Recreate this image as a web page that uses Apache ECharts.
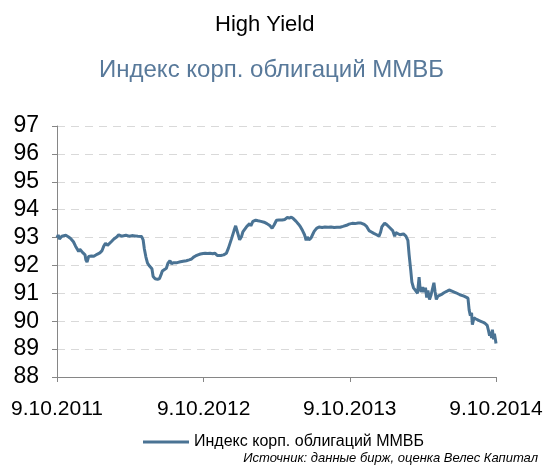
<!DOCTYPE html>
<html>
<head>
<meta charset="utf-8">
<script src="https://cdn.jsdelivr.net/npm/echarts@6/dist/echarts.min.js"></script>
<style>
  html, body { margin: 0; padding: 0; background: #fff; }
  #chart { width: 547px; height: 470px; }
</style>
</head>
<body>
<div id="chart"></div>
<script>
// индекс корп. облигаций ММВБ
const dates = [
  "2011-10-09","2011-10-12","2011-10-15","2011-10-18","2011-10-21","2011-10-25","2011-10-31",
  "2011-11-07","2011-11-13","2011-11-19","2011-11-24","2011-11-28","2011-12-02","2011-12-05",
  "2011-12-09","2011-12-13","2011-12-18","2011-12-20","2011-12-23","2011-12-27","2012-01-03",
  "2012-01-09","2012-01-17","2012-01-24","2012-01-29","2012-02-03","2012-02-07","2012-02-12",
  "2012-02-16","2012-02-22","2012-02-28","2012-03-06","2012-03-11","2012-03-14","2012-03-18",
  "2012-03-22","2012-03-29","2012-04-06","2012-04-13","2012-04-21","2012-04-28","2012-05-07",
  "2012-05-11","2012-05-14","2012-05-18","2012-05-22","2012-05-27","2012-06-02","2012-06-05",
  "2012-06-10","2012-06-16","2012-06-21","2012-06-25","2012-06-28","2012-07-02","2012-07-08",
  "2012-07-12","2012-07-17","2012-07-21","2012-07-26","2012-07-30","2012-08-04","2012-08-07",
  "2012-08-12","2012-08-19","2012-08-27","2012-09-03","2012-09-09","2012-09-14","2012-09-19",
  "2012-09-25","2012-10-01","2012-10-08","2012-10-13","2012-10-19","2012-10-25","2012-11-01",
  "2012-11-06","2012-11-12","2012-11-15","2012-11-21","2012-11-28","2012-12-05","2012-12-10",
  "2012-12-18","2012-12-24","2012-12-28","2013-01-07","2013-01-12","2013-01-15","2013-01-20",
  "2013-01-25","2013-02-01","2013-02-04","2013-02-09","2013-02-16","2013-02-22","2013-03-01",
  "2013-03-09","2013-03-16","2013-03-24","2013-03-29","2013-04-03","2013-04-09","2013-04-15",
  "2013-04-23","2013-04-30","2013-05-06","2013-05-11","2013-05-16","2013-05-21","2013-05-28",
  "2013-06-03","2013-06-08","2013-06-13","2013-06-18","2013-06-22","2013-06-25","2013-06-29",
  "2013-07-04","2013-07-08","2013-07-12","2013-07-18","2013-07-24","2013-08-01","2013-08-08",
  "2013-08-16","2013-08-23","2013-08-31","2013-09-07","2013-09-15","2013-09-22","2013-10-01",
  "2013-10-07","2013-10-15","2013-10-22","2013-10-30","2013-11-06","2013-11-14","2013-11-20",
  "2013-11-26","2013-12-02","2013-12-08","2013-12-15","2013-12-21","2013-12-25","2013-12-28",
  "2014-01-04","2014-01-10","2014-01-17","2014-01-24","2014-01-29","2014-02-01","2014-02-05",
  "2014-02-11","2014-02-15","2014-02-20","2014-02-26","2014-03-03","2014-03-06","2014-03-10",
  "2014-03-13","2014-03-17","2014-03-21","2014-03-25","2014-03-27","2014-03-31","2014-04-02",
  "2014-04-05","2014-04-09","2014-04-12","2014-04-16","2014-04-19","2014-04-22","2014-04-26",
  "2014-04-30","2014-05-03","2014-05-07","2014-05-10","2014-05-13","2014-05-17","2014-05-25",
  "2014-06-01","2014-06-09","2014-06-14","2014-06-21","2014-07-01","2014-07-11","2014-07-21",
  "2014-07-31","2014-08-03","2014-08-06","2014-08-09","2014-08-11","2014-08-15","2014-08-20",
  "2014-08-28","2014-09-04","2014-09-12","2014-09-17","2014-09-20","2014-09-23","2014-09-25",
  "2014-09-28","2014-09-30","2014-10-03","2014-10-05","2014-10-08","2014-10-09"
];
const values = [
  93.00,93.09,92.95,92.90,93.05,93.12,93.08,
  93.02,92.95,92.85,92.70,92.60,92.50,92.58,
  92.55,92.45,92.38,92.20,92.12,92.32,92.34,
  92.33,92.40,92.45,92.52,92.70,92.80,92.72,
  92.78,92.86,92.95,93.02,93.10,93.15,93.05,
  93.10,93.08,93.05,93.07,93.06,93.05,93.04,
  92.92,92.60,92.30,92.08,91.98,91.88,91.60,
  91.52,91.50,91.53,91.68,91.80,91.86,91.90,
  92.08,92.17,92.06,92.10,92.14,92.10,92.08,
  92.13,92.15,92.17,92.20,92.23,92.30,92.34,
  92.38,92.41,92.43,92.44,92.43,92.44,92.42,
  92.44,92.36,92.32,92.36,92.38,92.44,92.62,
  92.97,93.25,93.42,92.92,93.05,93.20,93.30,
  93.40,93.50,93.42,93.58,93.62,93.60,93.58,
  93.55,93.50,93.42,93.33,93.45,93.62,93.63,
  93.63,93.65,93.72,93.70,93.73,93.68,93.58,
  93.48,93.38,93.25,93.10,92.90,93.02,92.92,
  92.98,93.10,93.22,93.33,93.38,93.36,93.38,
  93.37,93.38,93.36,93.37,93.37,93.40,93.44,
  93.48,93.51,93.50,93.52,93.52,93.47,93.40,
  93.25,93.20,93.15,93.10,93.05,93.20,93.38,
  93.52,93.45,93.35,93.25,93.05,93.18,93.12,
  93.10,93.15,93.13,93.05,92.90,92.40,91.85,
  91.40,91.20,91.12,91.05,91.00,91.58,91.25,
  91.05,91.22,91.05,91.20,90.85,91.10,90.78,
  90.95,91.00,91.38,91.05,90.78,90.90,90.95,
  91.02,91.08,91.12,91.08,91.02,90.95,90.90,
  90.83,90.40,90.20,90.30,89.88,90.12,90.08,
  90.02,89.98,89.92,89.85,89.68,89.48,89.62,
  89.40,89.70,89.35,89.55,89.30,89.20
];
const xTickDates = ["2011-10-09", "2012-10-09", "2013-10-09", "2014-10-09"];
const yMin = 88, yMax = 97;

const seriesName = "Индекс корп. облигаций ММВБ";
const lineColor = "#4a7394";
const font = "'Liberation Sans', Arial, sans-serif";

const ts = s => new Date(s + "T00:00:00Z").getTime();
const fmt = v => {
  const d = new Date(v);
  return d.getUTCDate() + "." + (d.getUTCMonth() + 1) + "." + d.getUTCFullYear();
};
const xTicks = xTickDates.map(ts);

const chart = echarts.init(document.getElementById("chart"));
chart.setOption({
  animation: false,
  title: [
    { text: "High Yield", left: 210, top: 9,
      textStyle: { fontFamily: font, fontSize: 22, fontWeight: "normal", color: "#000" } },
    { text: seriesName, left: 94, top: 53,
      textStyle: { fontFamily: font, fontSize: 24, fontWeight: "normal", color: "#58799a" } },
    { text: "Источник: данные бирж, оценка Велес Капитал", right: 4, top: 447,
      textStyle: { fontFamily: font, fontSize: 13, fontStyle: "italic", fontWeight: "normal", color: "#000" } }
  ],
  legend: {
    bottom: 15, left: 138,
    itemWidth: 46, itemHeight: 3, itemGap: 6,
    icon: "rect",
    textStyle: { fontFamily: font, fontSize: 16, color: "#000" },
    data: [seriesName]
  },
  grid: { left: 57, right: 51, top: 126, bottom: 93 },
  xAxis: {
    type: "value",
    min: xTicks[0],
    max: xTicks[xTicks.length - 1],
    axisLine: { lineStyle: { color: "#868686", width: 1 } },
    axisTick: { show: true, length: 5, customValues: xTicks, lineStyle: { color: "#868686" } },
    axisLabel: { customValues: xTicks, formatter: fmt, margin: 22,
      fontFamily: font, fontSize: 21, color: "#000" },
    splitLine: { show: false }
  },
  yAxis: {
    type: "value",
    min: yMin, max: yMax, interval: 1,
    axisLine: { show: true, lineStyle: { color: "#868686", width: 1 } },
    axisTick: { show: true, length: 5, lineStyle: { color: "#868686" } },
    axisLabel: { fontFamily: font, fontSize: 23, color: "#000", margin: 18 },
    splitLine: { show: true, lineStyle: { color: "#d9d9d9", type: [8, 6], width: 1 } }
  },
  series: [{
    name: seriesName,
    type: "line",
    data: dates.map((d, i) => [ts(d), values[i]]),
    showSymbol: false,
    lineStyle: { color: lineColor, width: 3 },
    itemStyle: { color: lineColor }
  }]
});
</script>
</body>
</html>
